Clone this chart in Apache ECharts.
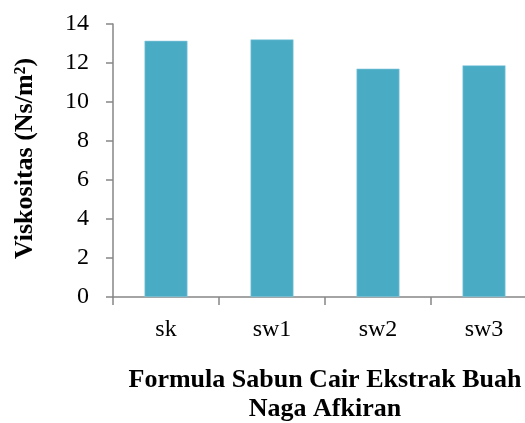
<!DOCTYPE html>
<html>
<head>
<meta charset="utf-8">
<script src="https://cdn.jsdelivr.net/npm/echarts@6/dist/echarts.min.js"></script>
<style>html,body{margin:0;padding:0;background:#fff;}#c{width:525px;height:423px;}</style>
</head>
<body>
<div id="c"></div>
<script>
var categories = ['sk', 'sw1', 'sw2', 'sw3'];
var values = [13.14, 13.21, 11.71, 11.88];
var yTicks = [0, 2, 4, 6, 8, 10, 12, 14];

var chart = echarts.init(document.getElementById('c'), null, {renderer: 'canvas'});
var font = '"Liberation Serif", "Times New Roman", serif';
chart.setOption({
  animation: false,
  grid: {left: 113, top: 24, width: 424, height: 273, containLabel: false, outerBoundsMode: 'none'},
  xAxis: {
    type: 'category',
    data: categories,
    name: 'Formula Sabun Cair Ekstrak Buah\nNaga Afkiran',
    nameLocation: 'middle',
    nameGap: 69,
    nameTextStyle: {fontFamily: font, fontSize: 26, fontWeight: 'bold', color: '#000', lineHeight: 29},
    axisLine: {lineStyle: {color: '#868686', width: 1.5}},
    axisTick: {show: true, length: 8, alignWithLabel: false, lineStyle: {color: '#868686', width: 1.5}},
    axisLabel: {fontFamily: font, fontSize: 24, color: '#000', margin: 21}
  },
  yAxis: {
    type: 'value',
    min: 0, max: 14, interval: 2,
    name: 'Viskositas (Ns/m²)',
    nameLocation: 'middle',
    nameGap: 75,
    nameRotate: 90,
    nameTextStyle: {fontFamily: font, fontSize: 26, fontWeight: 'bold', color: '#000', padding: [0, 0, 0, 4]},
    axisLine: {show: true, lineStyle: {color: '#868686', width: 1.5}},
    axisTick: {show: true, length: 7, lineStyle: {color: '#868686', width: 1.5}},
    axisLabel: {fontFamily: font, fontSize: 24, color: '#000', margin: 24,
      formatter: function (v) { return yTicks.indexOf(v) >= 0 ? String(v) : ''; }},
    splitLine: {show: false}
  },
  series: [{
    type: 'bar',
    data: values,
    barWidth: 43,
    itemStyle: {color: '#4aabc5', borderColor: '#8fcfe0', borderWidth: 0.6}
  }]
});
</script>
</body>
</html>
